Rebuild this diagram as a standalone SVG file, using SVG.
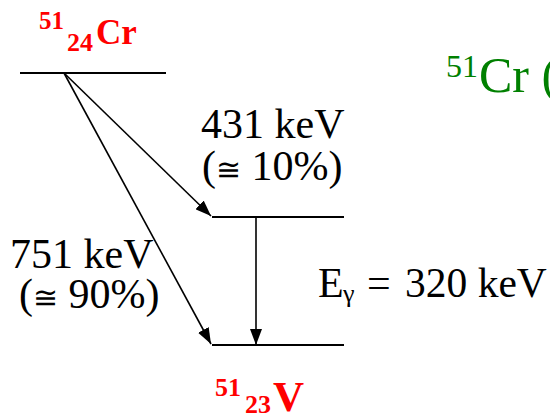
<svg xmlns="http://www.w3.org/2000/svg" width="550" height="418" viewBox="0 0 550 418">
<style>
.t{font-family:"Liberation Serif","Times New Roman",serif;font-size:42px;fill:#000}
.s{font-family:"DejaVu Serif",serif;font-size:30px}
.r{font-family:"Liberation Serif","Times New Roman",serif;font-weight:bold;fill:#ff0000}
.g{font-family:"Liberation Serif","Times New Roman",serif;fill:#008000}
.lv{stroke:#000;stroke-width:2;fill:none}
.ar{stroke:#000;stroke-width:1.6;fill:none;marker-end:url(#ah)}
</style>
<defs>
<marker id="ah" markerWidth="16" markerHeight="12" refX="16" refY="6" orient="auto" markerUnits="userSpaceOnUse">
<path d="M0,0 L16,6 L0,12 Z" fill="#000"/>
</marker>
</defs>
<rect width="550" height="418" fill="#fff"/>
<g id="cr-level">
<line class="lv" x1="20" y1="73" x2="166" y2="73"/>
<text class="r"><tspan x="39" y="29" font-size="25">51</tspan><tspan x="67" y="51" font-size="26">24</tspan><tspan x="96" y="44" font-size="35">Cr</tspan></text>
</g>
<g id="v-excited">
<line class="lv" x1="212" y1="217" x2="344" y2="217"/>
</g>
<g id="v-ground">
<line class="lv" x1="212" y1="345" x2="344" y2="345"/>
<text class="r"><tspan x="215" y="396" font-size="26">51</tspan><tspan x="245" y="413" font-size="26">23</tspan><tspan x="273" y="411" font-size="43">V</tspan></text>
</g>
<g id="title">
<text class="g"><tspan x="446" y="77" font-size="32">51</tspan><tspan x="479" y="92" font-size="50">Cr (</tspan></text>
</g>
<g id="connectors">
<line class="ar" x1="64" y1="73" x2="211" y2="216"/>
<line class="ar" x1="64" y1="73" x2="211" y2="344"/>
<line class="ar" x1="256" y1="217" x2="256" y2="345"/>
</g>
<g id="labels">
<text class="t" x="201" y="138">431 keV</text>
<text class="t" x="202" y="180">(<tspan class="s">≅</tspan> 10%)</text>
<text class="t" x="10" y="268">751 keV</text>
<text class="t" x="19" y="308">(<tspan class="s">≅</tspan> 90%)</text>
<text class="t" y="297"><tspan x="318">E</tspan><tspan x="343" y="302" font-size="26">γ</tspan><tspan x="367" y="297">=</tspan><tspan x="405" font-size="41.5">320 keV</tspan></text>
</g>
</svg>
